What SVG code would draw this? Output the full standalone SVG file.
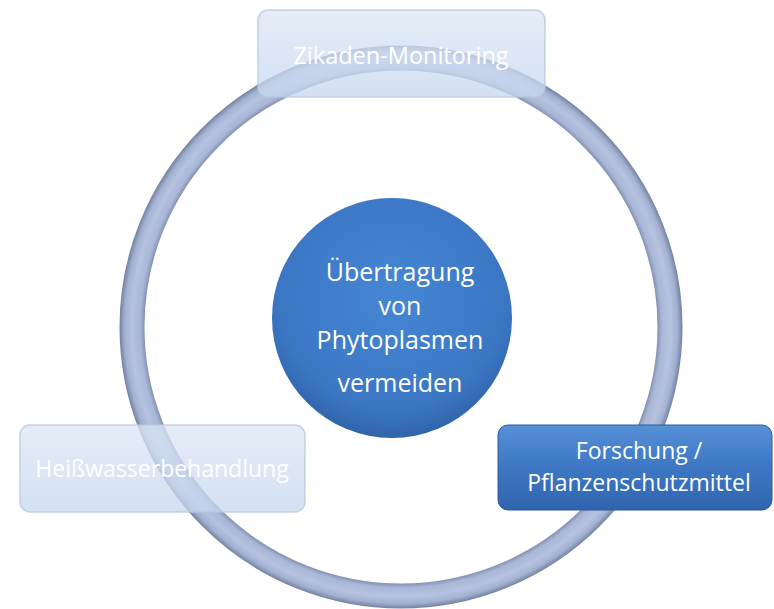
<svg xmlns="http://www.w3.org/2000/svg" width="774" height="609" viewBox="0 0 774 609">
<defs>
<radialGradient id="ringGrad" gradientUnits="userSpaceOnUse" cx="401" cy="327" r="282">
<stop offset="0.908" stop-color="#7f8db0"/>
<stop offset="0.925" stop-color="#a9b6d6"/>
<stop offset="0.955" stop-color="#b6c2e0"/>
<stop offset="0.98" stop-color="#a3b1d1"/>
<stop offset="1" stop-color="#6f7d9c"/>
</radialGradient>
<radialGradient id="centerGrad" cx="0.5" cy="0.4" r="0.6">
<stop offset="0" stop-color="#4687d4"/>
<stop offset="0.8" stop-color="#3b76c3"/>
<stop offset="1" stop-color="#3064aa"/>
</radialGradient>
<linearGradient id="boxBlue" x1="0" y1="0" x2="0" y2="1">
<stop offset="0" stop-color="#5590d8"/>
<stop offset="0.5" stop-color="#3d77c4"/>
<stop offset="1" stop-color="#3065ad"/>
</linearGradient>
<linearGradient id="boxLight" x1="0" y1="0" x2="0" y2="1">
<stop offset="0" stop-color="#dce6f5"/>
<stop offset="1" stop-color="#c6d6ee"/>
</linearGradient>
</defs>
<style>
.lbl { font-family: "Open Sans", "Liberation Sans", sans-serif; fill: #ffffff; text-anchor: middle; }
.light { fill: url(#boxLight); fill-opacity: 0.75; stroke: #b8c8e0; stroke-width: 1.5; stroke-opacity: 0.8; }
</style>
<g id="connectors">
<circle cx="401" cy="327" r="269" fill="none" stroke="url(#ringGrad)" stroke-width="25"/>
</g>
<g id="center">
<circle cx="392" cy="318" r="120" fill="url(#centerGrad)"/>
<text class="lbl" font-size="25" x="400" y="281">Übertragung</text>
<text class="lbl" font-size="25" x="400" y="315">von</text>
<text class="lbl" font-size="25" x="400" y="349">Phytoplasmen</text>
<text class="lbl" font-size="25" x="400" y="392">vermeiden</text>
</g>
<g id="node-top">
<rect class="light" x="258" y="10" width="287" height="87" rx="10"/>
<text class="lbl" font-size="23.5" x="401" y="64">Zikaden-Monitoring</text>
</g>
<g id="node-left">
<rect class="light" x="20" y="425" width="285" height="87" rx="10"/>
<text class="lbl" font-size="23" x="162" y="477">Heißwasserbehandlung</text>
</g>
<g id="node-right">
<rect x="498" y="425" width="274" height="85" rx="10" fill="url(#boxBlue)" stroke="#2d5a9a" stroke-width="1"/>
<text class="lbl" font-size="23" x="639" y="459">Forschung /</text>
<text class="lbl" font-size="23" x="639" y="491">Pflanzenschutzmittel</text>
</g>
</svg>
